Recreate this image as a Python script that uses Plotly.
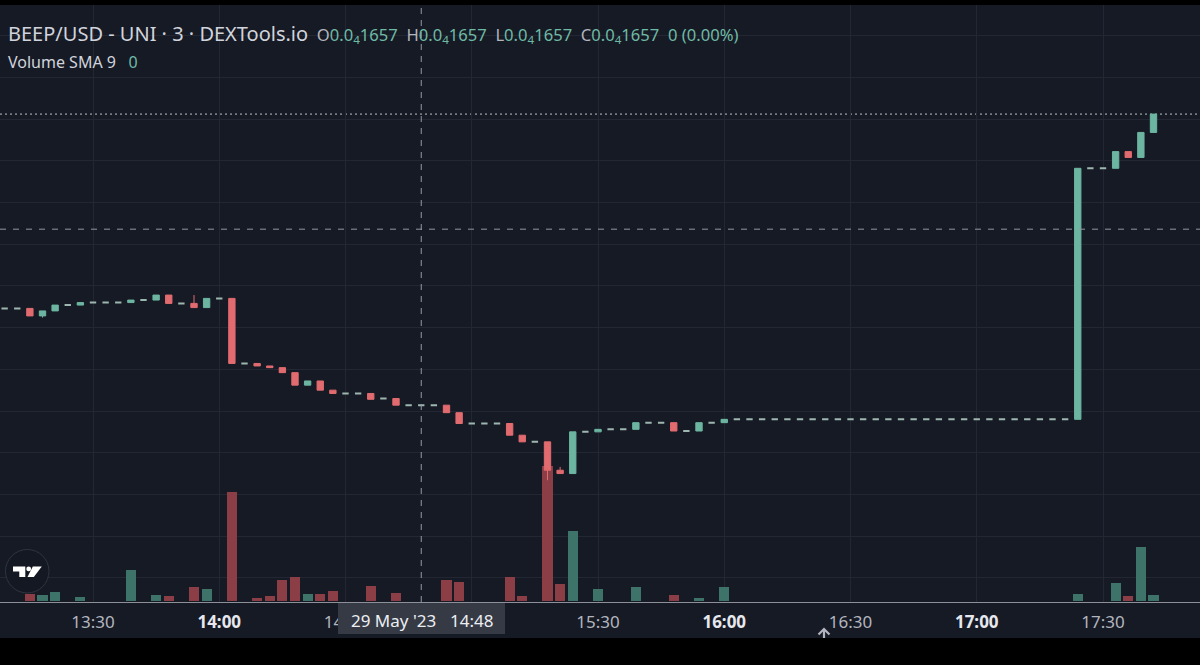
import plotly.graph_objects as go

# ---------------- data (3-minute candles, 29 May 2023) ----------------
# prices in micro-USD (1e-6 USD); volume in arbitrary units
times = [
    "13:09", "13:12", "13:15", "13:18", "13:21", "13:24", "13:27", "13:30", "13:33", "13:36",
    "13:39", "13:42", "13:45", "13:48", "13:51", "13:54", "13:57", "14:00", "14:03", "14:06",
    "14:09", "14:12", "14:15", "14:18", "14:21", "14:24", "14:27", "14:30", "14:33", "14:36",
    "14:39", "14:42", "14:45", "14:48", "14:51", "14:54", "14:57", "15:00", "15:03", "15:06",
    "15:09", "15:12", "15:15", "15:18", "15:21", "15:24", "15:27", "15:30", "15:33", "15:36",
    "15:39", "15:42", "15:45", "15:48", "15:51", "15:54", "15:57", "16:00", "16:03", "16:06",
    "16:09", "16:12", "16:15", "16:18", "16:21", "16:24", "16:27", "16:30", "16:33", "16:36",
    "16:39", "16:42", "16:45", "16:48", "16:51", "16:54", "16:57", "17:00", "17:03", "17:06",
    "17:09", "17:12", "17:15", "17:18", "17:21", "17:24", "17:27", "17:30", "17:33", "17:36",
    "17:39", "17:42",
]
opens = [
    17.73, 17.73, 17.73, 17.64, 17.70, 17.77, 17.77, 17.80, 17.80, 17.80,
    17.80, 17.83, 17.83, 17.89, 17.79, 17.79, 17.74, 17.85, 17.85, 17.07,
    17.07, 17.04, 17.02, 16.96, 16.81, 16.86, 16.75, 16.71, 16.71, 16.71,
    16.65, 16.65, 16.57, 16.57, 16.57, 16.57, 16.48, 16.35, 16.35, 16.35,
    16.35, 16.21, 16.13, 16.13, 15.79, 15.75, 16.25, 16.25, 16.28, 16.28,
    16.28, 16.36, 16.36, 16.36, 16.26, 16.26, 16.36, 16.36, 16.40, 16.40,
    16.40, 16.40, 16.40, 16.40, 16.40, 16.40, 16.40, 16.40, 16.40, 16.40,
    16.40, 16.40, 16.40, 16.40, 16.40, 16.40, 16.40, 16.40, 16.40, 16.40,
    16.40, 16.40, 16.40, 16.40, 16.40, 16.40, 19.41, 19.41, 19.41, 19.61,
    19.54, 19.84,
]
highs = [
    17.73, 17.73, 17.73, 17.70, 17.77, 17.77, 17.80, 17.80, 17.80, 17.80,
    17.83, 17.83, 17.89, 17.89, 17.79, 17.89, 17.85, 17.85, 17.85, 17.07,
    17.07, 17.04, 17.02, 16.96, 16.86, 16.86, 16.75, 16.71, 16.71, 16.71,
    16.65, 16.65, 16.57, 16.57, 16.57, 16.57, 16.48, 16.35, 16.35, 16.35,
    16.35, 16.21, 16.13, 16.13, 15.83, 16.25, 16.25, 16.28, 16.28, 16.28,
    16.36, 16.36, 16.36, 16.36, 16.26, 16.36, 16.36, 16.40, 16.40, 16.40,
    16.40, 16.40, 16.40, 16.40, 16.40, 16.40, 16.40, 16.40, 16.40, 16.40,
    16.40, 16.40, 16.40, 16.40, 16.40, 16.40, 16.40, 16.40, 16.40, 16.40,
    16.40, 16.40, 16.40, 16.40, 16.40, 19.41, 19.41, 19.41, 19.61, 19.61,
    19.84, 20.06,
]
lows = [
    17.73, 17.73, 17.64, 17.62, 17.70, 17.77, 17.77, 17.80, 17.80, 17.80,
    17.80, 17.83, 17.83, 17.79, 17.79, 17.74, 17.74, 17.85, 17.07, 17.07,
    17.04, 17.02, 16.96, 16.81, 16.81, 16.75, 16.71, 16.71, 16.71, 16.64,
    16.65, 16.57, 16.57, 16.57, 16.57, 16.48, 16.35, 16.35, 16.35, 16.35,
    16.21, 16.13, 16.13, 15.67, 15.75, 15.75, 16.25, 16.25, 16.28, 16.28,
    16.28, 16.36, 16.36, 16.26, 16.26, 16.26, 16.36, 16.36, 16.40, 16.40,
    16.40, 16.40, 16.40, 16.40, 16.40, 16.40, 16.40, 16.40, 16.40, 16.40,
    16.40, 16.40, 16.40, 16.40, 16.40, 16.40, 16.40, 16.40, 16.40, 16.40,
    16.40, 16.40, 16.40, 16.40, 16.40, 16.40, 19.41, 19.41, 19.41, 19.54,
    19.54, 19.84,
]
closes = [
    17.73, 17.73, 17.64, 17.70, 17.77, 17.77, 17.80, 17.80, 17.80, 17.80,
    17.83, 17.83, 17.89, 17.79, 17.79, 17.74, 17.85, 17.85, 17.07, 17.07,
    17.04, 17.02, 16.96, 16.81, 16.86, 16.75, 16.71, 16.71, 16.71, 16.64,
    16.65, 16.57, 16.57, 16.57, 16.57, 16.48, 16.35, 16.35, 16.35, 16.35,
    16.21, 16.13, 16.13, 15.79, 15.75, 16.25, 16.25, 16.28, 16.28, 16.28,
    16.36, 16.36, 16.36, 16.26, 16.26, 16.36, 16.36, 16.40, 16.40, 16.40,
    16.40, 16.40, 16.40, 16.40, 16.40, 16.40, 16.40, 16.40, 16.40, 16.40,
    16.40, 16.40, 16.40, 16.40, 16.40, 16.40, 16.40, 16.40, 16.40, 16.40,
    16.40, 16.40, 16.40, 16.40, 16.40, 19.41, 19.41, 19.41, 19.61, 19.54,
    19.84, 20.06,
]
volumes = [
    0, 0, 6.7, 6.3, 8.7, 0, 3.7, 0, 0, 0,
    31, 0, 5.7, 4.7, 0, 13.7, 11.7, 0, 109, 0,
    2.7, 4.7, 21, 24, 6.7, 7, 10.3, 0, 0, 14.7,
    0, 7.7, 0, 0, 0, 21, 19, 0, 0, 0,
    24, 4.7, 0, 135, 17.3, 70, 0, 12, 0, 0,
    14, 0, 0, 5.7, 0, 3, 0, 13.7, 0, 0,
    0, 0, 0, 0, 0, 0, 0, 0, 0, 0,
    0, 0, 0, 0, 0, 0, 0, 0, 0, 0,
    0, 0, 0, 0, 0, 7.3, 0, 0, 18, 4.7,
    54.3, 5.7,
]
tick_times = ["13:30", "14:00", "14:30", "15:00", "15:30", "16:00", "16:30", "17:00", "17:30"]
hidden_ticks = ["15:00"]  # covered by the crosshair time label
hover_time = "14:48"
crosshair_price = 18.68
DAY = "2023-05-29"
x_range = [DAY + " 13:07:54", DAY + " 17:53:03"]
y_price_range = [14.2099, 21.3679]
y_vol_range = [-1, 596]

# ---------------- styling ----------------
BG = "#161a25"
GRID = "#232733"
UP = "#6cb5a1"
DOWN = "#e16b6f"
DOJI = "#9db6af"
VOL_UP = "#3d7368"
VOL_DOWN = "#8b3e45"
TXT = "#d1d4dc"
LBL = "#b2b5be"
FONT = "Noto Sans"

W, H = 1200, 665
TOP, BOT = 5, 602  # plot area in pixels


def px(x):
    return x / W


def py(y):
    return (BOT - y) / (BOT - TOP)


xs = [f"{DAY} {t}" for t in times]

doji_idx = [i for i in range(len(times)) if opens[i] == closes[i] and highs[i] == lows[i]]
body_idx = [i for i in range(len(times)) if i not in doji_idx]

fig = go.Figure()

vol_colors = [VOL_UP if c >= o else VOL_DOWN for o, c in zip(opens, closes)]
fig.add_trace(go.Bar(
    x=xs, y=volumes, marker=dict(color=vol_colors, line=dict(width=0)),
    width=144000, yaxis="y", hoverinfo="skip",
))

fig.add_trace(go.Candlestick(
    x=[xs[i] for i in body_idx],
    open=[opens[i] for i in body_idx], high=[highs[i] for i in body_idx],
    low=[lows[i] for i in body_idx], close=[closes[i] for i in body_idx],
    increasing=dict(line=dict(color=UP, width=1), fillcolor=UP),
    decreasing=dict(line=dict(color=DOWN, width=1), fillcolor=DOWN),
    whiskerwidth=0, yaxis="y2", hoverinfo="skip",
))
fig.add_trace(go.Candlestick(
    x=[xs[i] for i in doji_idx],
    open=[opens[i] for i in doji_idx], high=[highs[i] for i in doji_idx],
    low=[lows[i] for i in doji_idx], close=[closes[i] for i in doji_idx],
    increasing=dict(line=dict(color=DOJI, width=2), fillcolor=DOJI),
    decreasing=dict(line=dict(color=DOJI, width=2), fillcolor=DOJI),
    whiskerwidth=0, yaxis="y2", hoverinfo="skip",
))

ticktext = []
for t in tick_times:
    if t in hidden_ticks:
        ticktext.append("")
    elif t.endswith(":00"):
        ticktext.append(f"<b><span style='color:#e6e8ee'>{t}</span></b>")
    else:
        ticktext.append(t)

fig.update_layout(
    width=W, height=H,
    margin=dict(l=0, r=0, t=TOP, b=H - BOT),
    paper_bgcolor="#000000", plot_bgcolor=BG,
    showlegend=False, boxgap=0.28, bargap=0,
    font=dict(family=FONT, color=LBL),
    xaxis=dict(
        type="date", range=x_range,
        tickvals=[f"{DAY} {t}" for t in tick_times], ticktext=ticktext,
        showgrid=True, gridcolor=GRID, gridwidth=1, zeroline=False,
        showline=True, linecolor="#8d9099", linewidth=1,
        ticks="", tickfont=dict(family=FONT, size=17, color=LBL),
        ticklabelstandoff=5,
        rangeslider=dict(visible=False), fixedrange=True,
    ),
    yaxis=dict(range=y_vol_range, visible=False, fixedrange=True),
    yaxis2=dict(
        range=y_price_range, overlaying="y", side="right",
        tick0=0, dtick=0.5, showgrid=True, gridcolor=GRID, gridwidth=1,
        showticklabels=False, zeroline=False, ticks="", fixedrange=True,
    ),
)

shapes = []
# time-axis strip background
shapes.append(dict(type="rect", xref="paper", yref="paper", x0=0, x1=1,
                   y0=py(638), y1=0, fillcolor=BG, line=dict(width=0), layer="below"))
# last price dotted line
shapes.append(dict(type="line", xref="paper", yref="y2", x0=0, x1=1,
                   y0=closes[-1], y1=closes[-1],
                   line=dict(color="#b9c4c3", width=1, dash="2px,3px"), layer="below"))
# crosshair
shapes.append(dict(type="line", xref="x", yref="paper",
                   x0=f"{DAY} {hover_time}", x1=f"{DAY} {hover_time}", y0=0, y1=1,
                   line=dict(color="#9598a1", width=1, dash="6px,6px"), layer="above"))
shapes.append(dict(type="line", xref="paper", yref="y2", x0=0, x1=1,
                   y0=crosshair_price, y1=crosshair_price,
                   line=dict(color="#9598a1", width=1, dash="6px,7px"), layer="above"))
# crosshair time label box
shapes.append(dict(type="rect", xref="paper", yref="paper", x0=px(338), x1=px(505),
                   y0=py(634), y1=py(603), fillcolor="#363a45", line=dict(width=0), layer="above"))
# scroll arrow icon
shapes.append(dict(type="path", xref="paper", yref="paper",
                   path=f"M{px(818.5)},{py(634.5)} L{px(824)},{py(629)} L{px(829.5)},{py(634.5)} "
                        f"M{px(824)},{py(629)} L{px(824)},{py(638)}",
                   line=dict(color="#b2b5be", width=2.2), layer="above"))
# TradingView logo
shapes.append(dict(type="circle", xref="paper", yref="paper",
                   x0=px(5.5), x1=px(49), y0=py(593), y1=py(549.5),
                   fillcolor="#141822", line=dict(color="#30343f", width=1), layer="above"))


def poly(pts):
    s = "M" + " L".join(f"{px(a)},{py(b)}" for a, b in pts) + " Z"
    return s


LY = 566.5
shapes.append(dict(type="path", xref="paper", yref="paper",
                   path=poly([(13, LY), (25.3, LY), (25.3, LY + 10.5), (19.3, LY + 10.5),
                              (19.3, LY + 5), (13, LY + 5)]),
                   fillcolor="#ffffff", line=dict(width=0), layer="above"))
shapes.append(dict(type="circle", xref="paper", yref="paper",
                   x0=px(26.3), x1=px(31.1), y0=py(LY + 4.8), y1=py(LY),
                   fillcolor="#ffffff", line=dict(width=0), layer="above"))
shapes.append(dict(type="path", xref="paper", yref="paper",
                   path=poly([(32.8, LY), (41.8, LY), (33.8, LY + 10.5), (27.5, LY + 10.5)]),
                   fillcolor="#ffffff", line=dict(width=0), layer="above"))
fig.update_layout(shapes=shapes)


def fmt(p):
    return f"0.0<sub>4</sub>{p * 100:.0f}"


hi = times.index(hover_time)
o, h, l, c = opens[hi], highs[hi], lows[hi], closes[hi]
chg = c - o
pct = chg / o * 100
VAL = "#6fbaa5" if c >= o else DOWN
parts = []
for lab, v in zip("OHLC", [o, h, l, c]):
    parts.append(f"<span style='color:{LBL}'>{lab}</span><span style='color:{VAL}'>{fmt(v)}</span>")
title = "BEEP/USD - UNI\u00a0·\u00a03\u00a0·\u00a0DEXTools.io"
header = (f"<span style='font-size:20px'>{title}</span>\u00a0\u00a0" + "\u00a0\u00a0".join(parts)
          + f"\u00a0\u00a0<span style='color:{VAL}'>{abs(chg):.0f} ({abs(pct):.2f}%)</span>")

annotations = [
    dict(xref="paper", yref="paper", x=px(6), y=py(33), xanchor="left", yanchor="middle",
         text=header, showarrow=False, font=dict(family=FONT, size=16.6, color=TXT)),
    dict(xref="paper", yref="paper", x=px(6), y=py(62), xanchor="left", yanchor="middle",
         text=f"Volume SMA 9\u00a0\u00a0\u00a0<span style='color:{VAL}'>0</span>", showarrow=False,
         font=dict(family=FONT, size=16, color=TXT)),
    dict(xref="paper", yref="paper", x=px(393.5), y=py(620), xanchor="center", yanchor="middle",
         text="29 May '23", showarrow=False, font=dict(family=FONT, size=17, color="#eceef2")),
    dict(xref="paper", yref="paper", x=px(471), y=py(620), xanchor="center", yanchor="middle",
         text=hover_time, showarrow=False, font=dict(family=FONT, size=17, color="#eceef2")),
]
fig.update_layout(annotations=annotations)

fig.write_html("out.html")
